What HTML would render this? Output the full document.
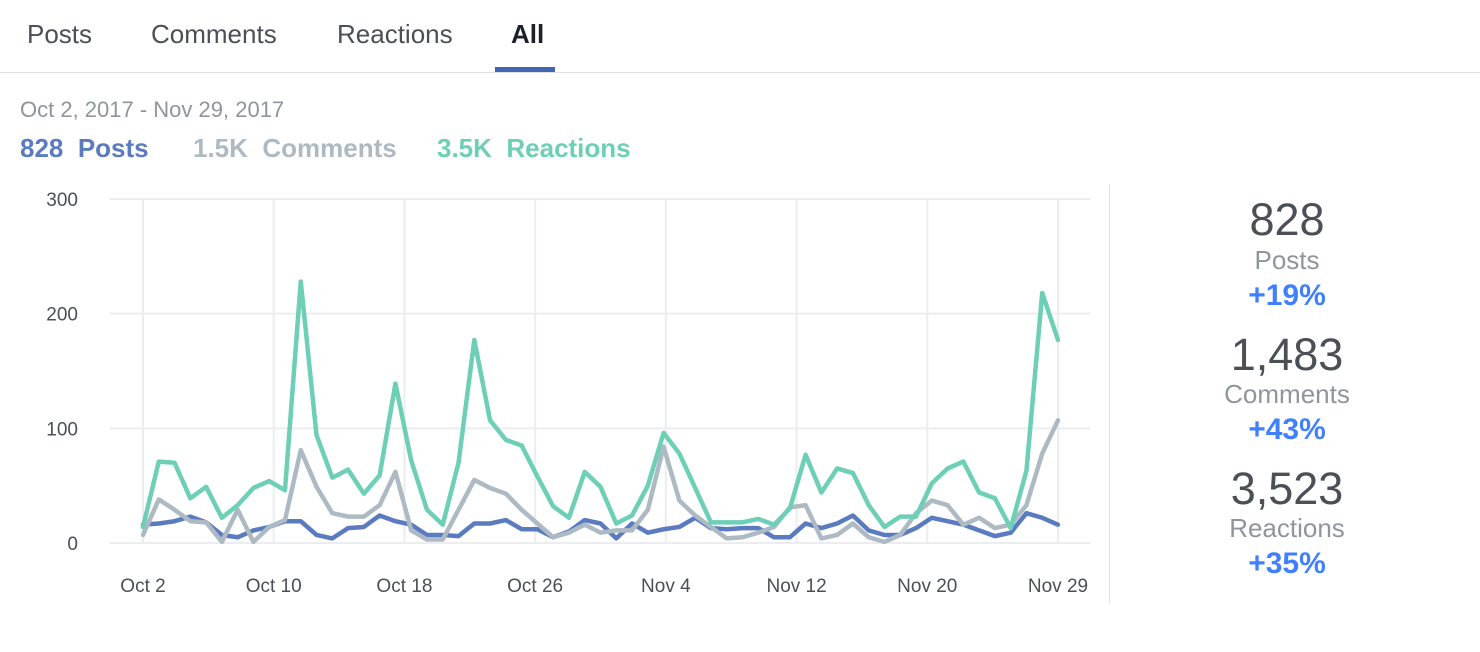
<!DOCTYPE html>
<html><head><meta charset="utf-8"><style>
body{margin:0;width:1480px;height:652px;background:#fff;font-family:"Liberation Sans",sans-serif;position:relative;overflow:hidden}
.a{position:absolute;white-space:nowrap;line-height:1.15}
.tab{top:20px;font-size:26px;color:#4b4f56}
.st{left:1137px;width:300px;text-align:center}
.big{font-size:45px;color:#4b4f56}
.lbl{font-size:26px;color:#90949c}
.pct{font-size:30px;color:#4080ff;font-weight:bold}
</style></head><body>
<div class="a tab" style="left:27px">Posts</div>
<div class="a tab" style="left:151px">Comments</div>
<div class="a tab" style="left:337px">Reactions</div>
<div class="a tab" style="left:511px;font-weight:bold;color:#1d2129">All</div>
<div class="a" style="left:495px;top:67px;width:60px;height:5px;background:#4267b2"></div>
<div class="a" style="left:0;top:72px;width:1480px;height:1px;background:#dddfe2"></div>
<div class="a" style="left:20px;top:97px;font-size:22px;color:#90949c">Oct 2, 2017 - Nov 29, 2017</div>
<div class="a" style="left:20px;top:134px;font-size:26px;font-weight:bold;color:#5b7bc0">828&nbsp; Posts</div>
<div class="a" style="left:193px;top:134px;font-size:26px;font-weight:bold;color:#adbac3">1.5K&nbsp; Comments</div>
<div class="a" style="left:437px;top:134px;font-size:26px;font-weight:bold;color:#6dcfb6">3.5K&nbsp; Reactions</div>
<svg class="a" style="left:0;top:0" width="1480" height="652" id="chart"></svg>
<div class="a" style="left:1109px;top:185px;width:1px;height:418px;background:#dddfe2"></div>
<div class="a st big" style="top:194px">828</div>
<div class="a st lbl" style="top:246px">Posts</div>
<div class="a st pct" style="top:279px">+19%</div>
<div class="a st big" style="top:329px">1,483</div>
<div class="a st lbl" style="top:380px">Comments</div>
<div class="a st pct" style="top:413px">+43%</div>
<div class="a st big" style="top:463px">3,523</div>
<div class="a st lbl" style="top:514px">Reactions</div>
<div class="a st pct" style="top:547px">+35%</div>
<script>
const xLabels=["Oct 2","Oct 10","Oct 18","Oct 26","Nov 4","Nov 12","Nov 20","Nov 29"];
const yTicks=[0,100,200,300];
const posts=[16,17,19,23,18,7,5,11,14,19,19,7,4,13,14,24,19,16,7,7,6,17,17,20,12,12,5,10,20,17,4,17,9,12,14,22,13,12,13,13,5,5,17,13,17,24,11,7,7,13,22,19,16,11,6,9,26,22,16];
const comments=[7,38,29,19,18,1,29,1,14,20,81,49,26,23,23,33,62,11,3,3,29,55,48,43,29,17,5,9,16,9,11,11,29,84,37,24,14,4,5,9,14,31,33,4,7,17,5,1,7,26,37,33,16,22,13,16,33,78,107];
const reactions=[14,71,70,39,49,22,33,48,54,46,228,94,57,64,43,59,139,72,29,16,70,177,107,90,85,58,32,22,62,49,17,24,50,96,78,48,18,18,18,21,16,30,77,44,65,61,33,14,23,23,52,65,71,44,39,13,63,218,177];
const svg=document.getElementById('chart');const NS='http://www.w3.org/2000/svg';
const X0=143,X1=1058,Y0=543,Y1=199,YMAX=300;
const n=posts.length;
const xs=i=>X0+(X1-X0)*i/(n-1);
const ys=v=>Y0-(Y0-Y1)*v/YMAX;
function mk(t,a){const e=document.createElementNS(NS,t);for(const k in a)e.setAttribute(k,a[k]);svg.appendChild(e);return e;}
yTicks.forEach(t=>{
 const l=mk('line',{x1:110,x2:1090,y1:ys(t),y2:ys(t),stroke:'#ebedf0','stroke-width':2});
 
 
 const tx=mk('text',{x:78,y:ys(t)+7,'text-anchor':'end','font-size':19,fill:'#4b4f56','font-family':'Liberation Sans, sans-serif'});
 tx.textContent=t;
 
 
});
xLabels.forEach((lab,i)=>{
 const x=X0+(X1-X0)*i/(xLabels.length-1);
 const l=mk('line',{x1:x,x2:x,y1:Y1,y2:Y0,stroke:'#ebedf0','stroke-width':2});
 
 
 const tx=mk('text',{x:x,y:592,'text-anchor':'middle','font-size':19,fill:'#4b4f56','font-family':'Liberation Sans, sans-serif'});
 tx.textContent=lab;
 
 
});
function line(d,c,name){
 const p=mk('polyline',{points:d.map((v,i)=>xs(i)+','+ys(v)).join(' '),fill:'none',stroke:c,'stroke-width':4.5,'stroke-linejoin':'round','stroke-linecap':'round'});
 
 
}
line(posts,'#5b7bc0','posts-line');
line(comments,'#adbac3','comments-line');
line(reactions,'#6dcfb6','reactions-line');
</script>
</body></html>
